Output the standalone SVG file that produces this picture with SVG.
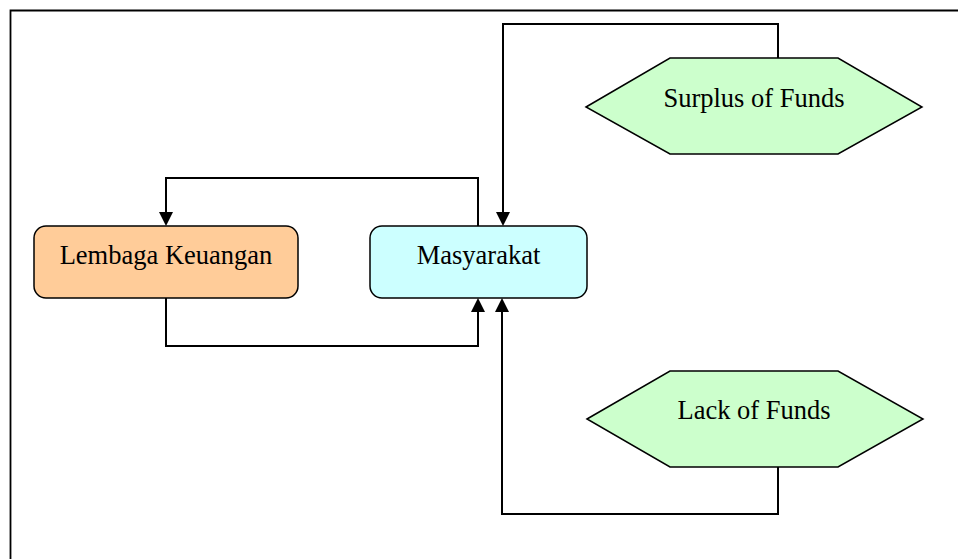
<svg xmlns="http://www.w3.org/2000/svg" width="958" height="559" viewBox="0 0 958 559">
<style>
.lbl{font-family:"Liberation Serif","Times New Roman",serif;font-size:26.5px;fill:#000;text-anchor:middle}
.box{stroke:#000;stroke-width:1.5}
.conn{fill:none;stroke:#000;stroke-width:2}
</style>
<defs>
<marker id="arr" markerUnits="userSpaceOnUse" markerWidth="15" markerHeight="15" refX="10" refY="7" orient="auto">
<path d="M0,0 L14,7 L0,14 z" fill="#000"/>
</marker>
</defs>
<rect width="958" height="559" fill="#fff"/>
<path d="M10.5,559 V10.5 H958" fill="none" stroke="#000" stroke-width="1.8"/>
<g id="connectors">
<path class="conn" d="M478,226 V178 H166 V222" marker-end="url(#arr)"/>
<path class="conn" d="M166,298 V346 H478 V302" marker-end="url(#arr)"/>
<path class="conn" d="M778,58 V24 H503 V222" marker-end="url(#arr)"/>
<path class="conn" d="M778,467 V514 H502 V302" marker-end="url(#arr)"/>
</g>
<g id="lembaga">
<rect class="box" x="34" y="226" width="264" height="72" rx="12" fill="#FFCC99"/>
<text class="lbl" x="166" y="264">Lembaga Keuangan</text>
</g>
<g id="masyarakat">
<rect class="box" x="370" y="226" width="217" height="72" rx="12" fill="#CCFFFF"/>
<text class="lbl" x="478.5" y="264">Masyarakat</text>
</g>
<g id="surplus">
<polygon class="box" points="586,107 670,58 838,58 922,107 838,154 670,154" fill="#CCFFCC"/>
<text class="lbl" x="754" y="107">Surplus of Funds</text>
</g>
<g id="lack">
<polygon class="box" points="587,419 670,371 838,371 923,419 838,467 670,467" fill="#CCFFCC"/>
<text class="lbl" x="754" y="419">Lack of Funds</text>
</g>
</svg>
